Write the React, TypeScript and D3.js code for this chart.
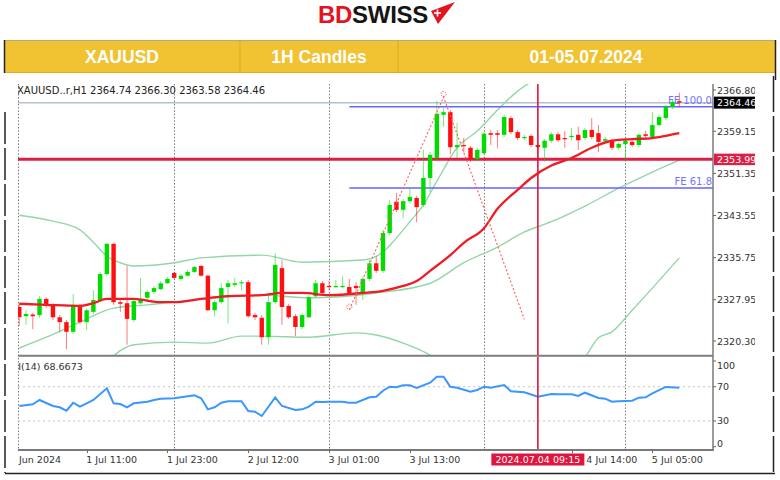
import React from 'react';
import * as d3 from 'd3';

// ---------- candle data (bar index 1..99) ----------
const opens = [2326.6,2324.9,2325.2,2325.1,2328.1,2327.0,2324.7,2323.8,2322.0,2326.8,2323.8,2325.7,2327.9,2332.7,2338.3,2327.5,2327.3,2324.2,2327.3,2328.3,2329.4,2329.9,2331.0,2332.9,2331.8,2332.4,2333.1,2334.2,2332.4,2326.0,2327.5,2330.3,2330.7,2331.0,2331.2,2325.1,2324.6,2321.0,2327.5,2333.8,2326.8,2324.9,2322.9,2324.7,2328.6,2331.0,2330.5,2330.3,2330.3,2330.3,2330.5,2329.2,2331.8,2334.7,2333.3,2340.3,2346.1,2344.6,2346.2,2346.8,2345.5,2350.5,2354.2,2362.2,2362.7,2356.2,2356.6,2356.1,2354.0,2355.1,2358.8,2358.8,2358.5,2361.6,2359.0,2357.9,2358.3,2356.6,2356.1,2357.4,2358.6,2357.9,2358.1,2358.5,2357.9,2359.4,2358.8,2357.4,2357.4,2356.1,2356.8,2357.2,2356.6,2358.6,2358.1,2360.3,2361.6,2363.7,2364.74];
const highs = [2327.3,2326.0,2325.5,2328.6,2328.4,2327.3,2325.1,2324.2,2329.0,2327.2,2326.4,2329.7,2333.1,2338.5,2338.5,2327.9,2334.2,2328.1,2332.0,2329.7,2330.5,2331.4,2332.2,2333.1,2332.7,2333.5,2334.2,2334.4,2332.5,2327.9,2331.0,2331.6,2332.0,2331.6,2331.6,2325.5,2325.1,2329.2,2336.6,2335.3,2327.2,2325.3,2325.5,2328.8,2331.6,2331.4,2331.4,2331.6,2332.3,2331.8,2331.2,2332.2,2335.3,2336.0,2340.9,2346.4,2347.7,2346.6,2348.6,2347.2,2355.7,2355.3,2364.8,2363.5,2363.1,2360.7,2357.9,2356.4,2356.1,2359.0,2359.4,2359.4,2362.2,2362.0,2359.4,2358.5,2358.6,2357.0,2357.7,2359.0,2359.0,2359.2,2359.8,2360.0,2359.8,2361.6,2360.3,2358.1,2357.7,2357.2,2357.7,2357.5,2358.8,2359.2,2362.7,2362.2,2364.0,2365.0,2366.30];
const lows = [2323.1,2323.3,2322.5,2324.6,2326.4,2324.2,2322.0,2318.8,2321.6,2323.4,2322.3,2325.3,2327.5,2332.3,2327.0,2325.7,2319.6,2323.8,2327.0,2327.9,2329.0,2329.7,2330.9,2331.8,2331.6,2332.2,2332.9,2332.2,2325.9,2324.9,2327.2,2323.6,2330.3,2329.7,2324.6,2324.2,2319.6,2319.6,2327.2,2323.3,2324.4,2321.2,2322.5,2324.6,2328.4,2329.0,2329.7,2330.1,2330.1,2329.0,2327.0,2327.9,2331.4,2332.9,2332.9,2339.9,2344.2,2343.1,2345.9,2342.3,2345.1,2347.9,2353.8,2360.0,2354.9,2354.2,2355.3,2353.5,2353.6,2354.8,2356.6,2356.1,2358.1,2358.6,2357.5,2357.5,2356.2,2353.5,2353.5,2357.0,2357.2,2356.1,2357.5,2355.7,2357.5,2357.7,2355.3,2357.0,2355.7,2355.7,2353.5,2356.2,2356.2,2357.9,2357.7,2359.9,2361.2,2363.3,2363.58];
const closes = [2324.7,2325.3,2324.9,2328.1,2326.8,2324.7,2323.8,2322.0,2327.0,2323.8,2326.0,2327.9,2332.7,2338.3,2327.5,2327.2,2324.4,2327.7,2327.9,2329.4,2330.1,2331.0,2331.8,2332.0,2332.4,2333.1,2334.0,2332.4,2326.0,2327.5,2330.1,2331.0,2331.0,2331.2,2324.9,2324.7,2321.0,2327.5,2334.4,2326.6,2324.7,2322.9,2325.1,2328.4,2331.0,2329.2,2330.3,2330.5,2330.5,2329.2,2330.1,2331.8,2334.7,2333.3,2340.3,2345.5,2344.6,2346.2,2347.0,2345.1,2350.5,2354.8,2362.4,2362.7,2356.2,2356.6,2356.4,2354.0,2355.7,2358.7,2358.5,2358.5,2361.8,2359.0,2357.9,2358.1,2356.6,2356.2,2357.4,2358.6,2357.5,2357.7,2358.3,2357.5,2359.4,2358.1,2357.2,2357.7,2356.1,2356.8,2357.4,2356.6,2358.5,2358.3,2360.3,2361.8,2363.7,2364.6,2364.46];

// ---------- indicator lines (bar, value) ----------
const maBars = [1,5,10,12,14,18,22,24,28,32,37,40,43,47,52,55,58,60,62,65,67,70,72,75,77,80,83,86,89,92,95,97,99];
const maValues = [2327.2,2327.0,2326.8,2327.3,2328.1,2328.1,2327.5,2327.5,2328.1,2328.6,2328.8,2329.2,2329.2,2328.8,2329.2,2329.6,2330.5,2331.4,2333.3,2336.2,2338.5,2341.2,2344.8,2348.3,2350.5,2352.8,2354.2,2356.1,2357.4,2357.7,2357.9,2358.3,2358.8];

const upperBars = [1,6,10,12,14,16,18,24,28,37,43,52,55,57,59,61,63,66,69,72,75,77,80];
const upperValues = [2343.6,2342.5,2340.9,2338.6,2336.0,2334.8,2334.2,2334.8,2335.7,2336.2,2334.9,2335.3,2336.8,2339.4,2342.4,2345.5,2349.9,2356.1,2359.2,2363.1,2366.6,2368.3,2370.5];

const slowBars = [1,5,10,15,20,27,37,44,54,62,67,72,76,80,85,90,95,99];
const slowValues = [2319.0,2321.0,2323.8,2326.4,2327.0,2327.9,2328.8,2328.3,2329.2,2331.0,2334.8,2337.7,2340.5,2342.4,2345.3,2348.6,2351.6,2353.8];

const lowerBars = [1,8,13,15,18,24,29,34,37,44,51,54,58,62,65,70,76,82,85,87,89,92,95,99];
const lowerValues = [2310.7,2312.3,2314.6,2317.5,2319.6,2320.1,2319.9,2321.2,2321.2,2321.0,2321.8,2321.4,2319.9,2317.7,2315.3,2312.0,2310.0,2313.0,2317.3,2320.9,2322.0,2326.0,2330.1,2335.7];

const rsiBars = [1,3,4,6,7,8,9,10,11,12,14,15,16,17,18,20,21,22,24,25,27,28,29,30,31,32,34,35,36,37,39,40,42,43,44,45,46,47,49,50,51,53,54,55,56,57,58,59,60,62,63,64,65,66,68,69,70,71,73,74,76,78,80,81,83,84,85,87,88,89,90,92,93,94,95,97,99];
const rsiValues = [47.5,49.5,54.5,47.5,46.0,42.0,51.3,46.7,50.6,54.5,68.1,50.6,49.8,46.0,50.6,52.5,54.5,56.0,56.5,57.6,60.0,56.5,43.6,46.0,51.3,53.0,53.0,41.7,40.8,35.8,57.6,47.5,42.8,43.6,46.7,52.5,52.2,52.5,52.5,51.3,51.3,57.6,58.3,65.3,70.0,69.3,71.6,71.6,68.5,74.7,81.7,81.7,70.0,68.8,64.2,66.2,70.0,68.8,72.0,64.6,63.5,58.3,61.5,61.1,61.1,59.2,63.0,56.8,56.0,52.5,53.0,53.7,57.2,57.6,62.3,69.7,68.67];

// ---------- levels / tools ----------
const bidPrice = 2364.46;
const levelPrice = 2353.99;
const feBars = [50, 64, 76];
const fePrices = [2326.1, 2365.5, 2324.3];
const feLevels = [61.8, 100.0];
const crossBar = 78;
const crossLabel = '2024.07.04 09:15';

const priceTicks = [2366.80, 2359.15, 2351.35, 2343.55, 2335.75, 2327.95, 2320.30];
const rsiTicks = [100, 70, 30, 0];
const rsiGrid = [70, 30];
const gridBars = [1, 24, 47, 70, 91];
const timeTickBars = [11, 23, 35, 47, 59, 83, 95];
const timeTickLabels = ['1 Jul 11:00', '1 Jul 23:00', '2 Jul 12:00', '3 Jul 01:00', '3 Jul 13:00', '4 Jul 14:00', '5 Jul 05:00'];
const firstTimeLabel = 'Jun 2024';
const headerInfo = 'XAUUSD..r,H1  2364.74 2366.30 2363.58 2364.46';
const rsiInfo = 'RSI(14) 68.6673';
const titleCells = ['XAUUSD', '1H Candles', '01-05.07.2024'];

const FONT = 'DejaVu Sans, Verdana, sans-serif';
const GREEN = '#00dc00';
const RED = '#ff0f0f';

export default function App() {
  const L = 18, R = 713, TOP = 84, MAIN_B = 355, RSI_T = 357, RSI_B = 450;
  const x = d3.scaleLinear().domain([1, 99]).range([19.3, 679.3]);
  const y = d3.scaleLinear().domain([2320.30, 2366.80]).range([341, 90]);
  const yr = d3.scaleLinear().domain([0, 100]).range([446.7, 361]);

  const mk = (bars: number[], vals: number[]) => bars.map((b, i) => [b, vals[i]] as [number, number]);
  const priceLine = d3.line<[number, number]>().x(d => x(d[0])).y(d => y(d[1])).curve(d3.curveMonotoneX);
  const rsiLine = d3.line<[number, number]>().x(d => x(d[0])).y(d => yr(d[1]));

  const candles = closes.map((c, i) => ({ i: i + 1, o: opens[i], h: highs[i], l: lows[i], c }));
  const feRange = fePrices[1] - fePrices[0];
  const fe = feLevels.map(lv => ({ lv, p: fePrices[2] + feRange * lv / 100 }));
  const feX0 = x(feBars[0]);
  const fePath = feBars.map((b, i) => `${i ? 'L' : 'M'}${x(b)},${y(fePrices[i])}`).join('');

  const xc = x(crossBar);
  const boxL = xc - 46.5, boxR = xc + 46.5;

  const cellEdges = [4, 240, 398, 776];
  const cellShift = [0, 0, -1];

  return (
    <svg width={780} height={480} style={{ position: 'absolute', left: 0, top: 0, background: '#fff' }} fontFamily={FONT}>
      <defs>
        <clipPath id="mainClip"><rect x={L} y={TOP} width={R - L} height={MAIN_B - TOP} /></clipPath>
        <clipPath id="rsiClip"><rect x={L} y={RSI_T} width={R - L} height={RSI_B - RSI_T} /></clipPath>
        <clipPath id="shotClip"><rect x={L} y={76} width={755 - L} height={400} /></clipPath>
        <clipPath id="axisClip"><rect x={0} y={76} width={755} height={400} /></clipPath>
      </defs>
      <rect x={0} y={0} width={780} height={480} fill="#fff" />

      {/* Logo */}
      <text x={318} y={23} fontFamily="Liberation Sans, Arial, sans-serif" fontWeight="bold" fontSize={24} letterSpacing={-0.3}>
        <tspan fill="#e2141f">BD</tspan><tspan fill="#151515">SWISS</tspan>
      </text>
      <polygon points="431,11 455,2 438,24" fill="#e2141f" />
      <path d="M437.5,9.5 v7 M434,13 h7" stroke="#fff" strokeWidth={1.6} />

      {/* Title bar */}
      <rect x={4} y={40} width={772} height={33} fill="#f1c232" />
      <line x1={4} x2={776} y1={40.5} y2={40.5} stroke="#b9a774" strokeWidth={1} />
      <line x1={4} x2={776} y1={72.5} y2={72.5} stroke="#d9ad2a" strokeWidth={1} />
      <line x1={4.5} x2={4.5} y1={40} y2={73} stroke="#222" strokeWidth={1.5} />
      <line x1={775.5} x2={775.5} y1={40} y2={80} stroke="#222" strokeWidth={1.5} />
      {cellEdges.slice(1, 3).map(e => (
        <line key={e} x1={e} x2={e} y1={40} y2={73} stroke="#d6a924" strokeWidth={1} />
      ))}
      {titleCells.map((t, i) => (
        <text key={t} x={(cellEdges[i] + cellEdges[i + 1]) / 2 + cellShift[i]} y={63} textAnchor="middle"
          fill="#fff" fontFamily="Liberation Sans, Arial, sans-serif" fontWeight="bold" fontSize={17.5}>{t}</text>
      ))}

      {/* outer frame of screenshot */}
      <line x1={5} x2={5} y1={112} y2={473} stroke="#222" strokeWidth={1.5} strokeDasharray="32,4" />
      <line x1={773.5} x2={773.5} y1={76} y2={473} stroke="#222" strokeWidth={1.5} strokeDasharray="36,4" />
      <line x1={5} x2={775} y1={473.5} y2={473.5} stroke="#222" strokeWidth={1.5} />

      {/* vertical dotted grid */}
      {gridBars.map(b => {
        const gx = b === 1 ? L + 0.5 : Math.round(x(b)) + 0.5;
        return <line key={b} x1={gx} x2={gx} y1={TOP} y2={RSI_B} stroke="#7a7a7a" strokeWidth={1} strokeDasharray="1.5,1.8" />;
      })}

      {/* main pane */}
      <g clipPath="url(#mainClip)">
        <path d={priceLine(mk(upperBars, upperValues)) || ''} fill="none" stroke="#93d6a7" strokeWidth={1.4} />
        <path d={priceLine(mk(lowerBars, lowerValues)) || ''} fill="none" stroke="#93d6a7" strokeWidth={1.4} />
        <path d={priceLine(mk(slowBars, slowValues)) || ''} fill="none" stroke="#93d6a7" strokeWidth={1.4} />

        <line x1={L} x2={R} y1={y(bidPrice)} y2={y(bidPrice)} stroke="#b4c0cc" strokeWidth={1.5} />
        <line x1={L} x2={R} y1={y(levelPrice)} y2={y(levelPrice)} stroke="#dc1f45" strokeWidth={3} />

        {fe.map(f => (
          <line key={f.lv} x1={feX0} x2={R} y1={y(f.p)} y2={y(f.p)} stroke="#6565ff" strokeWidth={1.3} />
        ))}

        {candles.map(d => {
          const up = d.c >= d.o;
          const col = up ? GREEN : RED;
          const cx = x(d.i);
          const top = y(Math.max(d.o, d.c));
          const bh = Math.max(1.2, Math.abs(y(d.o) - y(d.c)));
          return (
            <g key={d.i}>
              <line x1={cx} x2={cx} y1={y(d.h)} y2={y(d.l)} stroke={col} strokeOpacity={0.55} strokeWidth={1} />
              <rect x={cx - 2.2} y={top} width={4.4} height={bh} fill={col} />
            </g>
          );
        })}

        <path d={priceLine(mk(maBars, maValues)) || ''} fill="none" stroke="#ee1c24" strokeWidth={2.3} />

        <path d={fePath} fill="none" stroke="#ff5a5a" strokeWidth={1.1} strokeDasharray="2,2" />
        {feBars.slice(0, 2).map((b, i) => (
          <circle key={b} cx={x(b)} cy={y(fePrices[i]) - 3} r={2.6} fill="none" stroke="#ff6a6a" strokeWidth={1} strokeDasharray="1.5,1.2" />
        ))}

        <text x={R - 1} y={y(fe[1].p) - 2.5} textAnchor="end" fontSize={10} fill="#7373ff">FE 100.0</text>
        <text x={R - 1} y={y(fe[0].p) - 3} textAnchor="end" fontSize={10} fill="#7373ff">FE 61.8</text>
      </g>

      {/* header info text */}
      <g clipPath="url(#shotClip)">
        <text x={17} y={94} fontSize={10} fill="#222">{headerInfo}</text>
        <text x={5.5} y={370} fontSize={9.5} fill="#333">{rsiInfo}</text>
      </g>

      {/* RSI pane */}
      {rsiGrid.map(v => (
        <line key={v} x1={L} x2={R} y1={yr(v)} y2={yr(v)} stroke="#c4c4c4" strokeWidth={1} strokeDasharray="2,3" />
      ))}
      <g clipPath="url(#rsiClip)">
        <path d={rsiLine(mk(rsiBars, rsiValues)) || ''} fill="none" stroke="#3a97ff" strokeWidth={2} />
      </g>

      {/* crosshair */}
      <line x1={xc} x2={xc} y1={TOP} y2={RSI_B} stroke="#e0143c" strokeWidth={1.6} />

      {/* pane borders */}
      <line x1={L} x2={R} y1={MAIN_B + 0.5} y2={MAIN_B + 0.5} stroke="#808080" strokeWidth={1.5} />
      <line x1={L} x2={R} y1={RSI_T - 0.5} y2={RSI_T - 0.5} stroke="#9a9a9a" strokeWidth={1} />
      <line x1={L} x2={R + 1} y1={RSI_B} y2={RSI_B} stroke="#7a7a7a" strokeWidth={2} />
      <line x1={R} x2={R} y1={TOP} y2={RSI_B} stroke="#7a7a7a" strokeWidth={1.5} />

      {/* price axis */}
      <g clipPath="url(#axisClip)" fontSize={9.5} fill="#333">
        {priceTicks.map(p => (
          <g key={p}>
            <line x1={R} x2={R + 3} y1={y(p)} y2={y(p)} stroke="#666" />
            <text x={R + 4} y={y(p) + 3.5}>{p.toFixed(2)}</text>
          </g>
        ))}
        <rect x={R + 1} y={y(bidPrice) - 6} width={42} height={12} fill="#000" />
        <text x={R + 4} y={y(bidPrice) + 3.5} fill="#fff">{bidPrice.toFixed(2)}</text>
        <rect x={R + 1} y={y(levelPrice) - 5.5} width={42} height={11.5} fill="#dc1f45" />
        <text x={R + 4} y={y(levelPrice) + 3.5} fill="#fff">{levelPrice.toFixed(2)}</text>

        {rsiTicks.map(v => {
          const yy = Math.min(443.5, Math.max(365, yr(v)));
          return (
            <g key={v}>
              <line x1={R} x2={R + 3} y1={yr(v)} y2={yr(v)} stroke="#666" />
              <text x={R + 4} y={yy + 3.5}>{v}</text>
            </g>
          );
        })}
      </g>

      {/* time axis */}
      <g fontSize={9.5} fill="#333">
        <text x={19} y={463}>{firstTimeLabel}</text>
        {timeTickBars.map((b, i) => {
          const raw = x(b) - 0.5;
          // a label that would sit under the cursor's date box is pushed just past it
          const tx = raw < boxR + 2 && raw > boxL - 55 ? boxR + 2 : raw;
          return (
            <g key={b}>
              <line x1={Math.round(x(b)) + 0.5} x2={Math.round(x(b)) + 0.5} y1={RSI_B} y2={RSI_B + 3} stroke="#666" />
              <text x={tx} y={463}>{timeTickLabels[i]}</text>
            </g>
          );
        })}
        <rect x={boxL} y={453.5} width={93} height={12} fill="#e0143c" />
        <text x={xc} y={463} textAnchor="middle" fill="#fff">{crossLabel}</text>
      </g>
    </svg>
  );
}
